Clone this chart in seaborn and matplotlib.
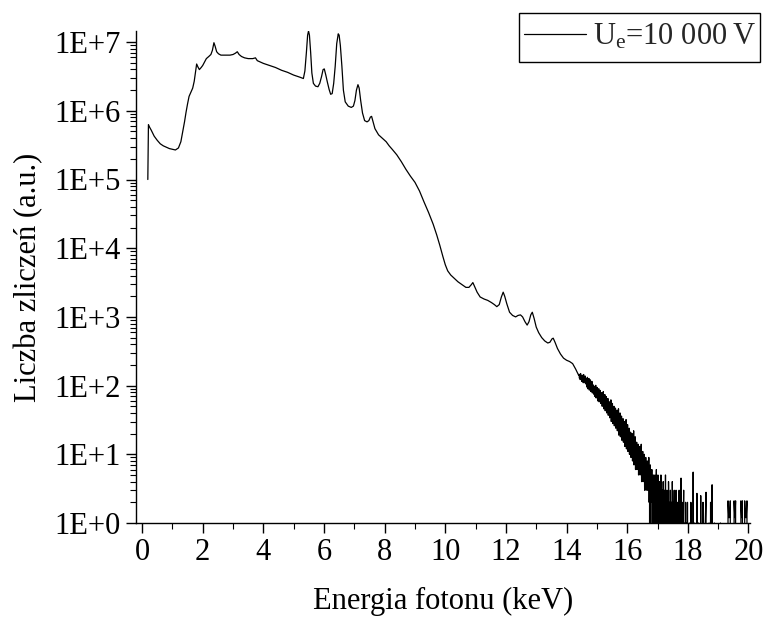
import numpy as np
import pandas as pd
import matplotlib
matplotlib.use("Agg")
import matplotlib.pyplot as plt
import matplotlib.ticker as mticker
from matplotlib.patches import Rectangle
import seaborn as sns

# ---- smooth part of the spectrum (energy keV, counts) ----
energy_main = [
    0.19, 0.21, 0.25, 0.30, 0.40, 0.50, 0.60, 0.70, 0.80, 0.90, 1.00, 1.10, 1.20, 1.28,
    1.34, 1.40, 1.45, 1.50, 1.55, 1.62, 1.67, 1.72, 1.76, 1.80, 1.84, 1.89, 1.95, 2.00,
    2.06, 2.12, 2.20, 2.27, 2.32, 2.37, 2.41, 2.46, 2.52, 2.60, 2.70, 2.80, 2.90, 3.00,
    3.08, 3.14, 3.20, 3.28, 3.38, 3.50, 3.65, 3.74, 3.80, 3.90, 4.00, 4.20, 4.40, 4.60,
    4.80, 5.00, 5.20, 5.32, 5.37, 5.42, 5.46, 5.49, 5.52, 5.56, 5.60, 5.65, 5.72, 5.80,
    5.86, 5.92, 5.97, 6.01, 6.06, 6.11, 6.17, 6.22, 6.27, 6.32, 6.37, 6.42, 6.47, 6.50,
    6.54, 6.59, 6.64, 6.70, 6.80, 6.90, 6.97, 7.02, 7.07, 7.12, 7.16, 7.21, 7.27, 7.34,
    7.42, 7.48, 7.53, 7.57, 7.62, 7.68, 7.80, 7.95, 8.05, 8.15, 8.25, 8.40, 8.55, 8.70,
    8.85, 9.00, 9.15, 9.30, 9.45, 9.60, 9.72, 9.82, 9.92, 10.00, 10.08, 10.18, 10.30,
    10.42, 10.55, 10.68, 10.78, 10.86, 10.91, 10.97, 11.05, 11.15, 11.28, 11.40, 11.52,
    11.62, 11.70, 11.78, 11.85, 11.91, 11.96, 12.03, 12.12, 12.22, 12.32, 12.40, 12.48,
    12.55, 12.63, 12.70, 12.76, 12.82, 12.87, 12.93, 13.00, 13.08, 13.18, 13.28, 13.38,
    13.45, 13.52, 13.56, 13.62, 13.70, 13.80, 13.90, 14.00, 14.10, 14.20, 14.30, 14.40,
]
counts_main = [
    1.0e5, 6.3e5, 5.75e5, 5.25e5, 4.27e5, 3.72e5, 3.31e5, 3.09e5, 2.95e5, 2.82e5, 2.75e5,
    2.69e5, 2.88e5, 3.55e5,
    4.9e5, 6.9e5, 9.5e5, 1.26e6, 1.62e6, 1.9e6, 2.14e6, 2.69e6, 3.55e6, 4.8e6, 4.37e6,
    3.98e6, 4.27e6, 4.57e6,
    5.13e6, 5.75e6, 6.17e6, 6.6e6, 7.6e6, 9.8e6, 8.7e6, 7.24e6, 6.76e6, 6.46e6, 6.46e6,
    6.46e6, 6.46e6, 6.6e6,
    6.9e6, 7.24e6, 6.6e6, 6.17e6, 5.9e6, 5.75e6, 5.75e6, 5.9e6, 5.37e6, 5.13e6, 4.9e6,
    4.57e6, 4.27e6, 3.89e6,
    3.63e6, 3.31e6, 3.09e6, 2.95e6, 3.8e6, 7.1e6, 1.26e7, 1.45e7, 1.26e7, 7.1e6, 3.55e6,
    2.51e6, 2.29e6, 2.24e6,
    2.51e6, 3.16e6, 3.98e6, 4.07e6, 3.31e6, 2.63e6, 2.04e6, 1.74e6, 1.78e6, 2.51e6,
    4.47e6, 9.5e6, 1.32e7, 1.26e7,
    8.9e6, 4.47e6, 2.0e6, 1.35e6, 1.17e6, 1.12e6, 1.17e6, 1.41e6, 2.0e6, 2.4e6, 2.14e6,
    1.41e6, 9.3e5, 7.2e5,
    6.9e5, 7.2e5, 8.1e5, 8.3e5, 6.9e5, 5.5e5, 4.47e5, 3.89e5, 3.55e5, 3.09e5, 2.75e5,
    2.29e5, 1.82e5, 1.41e5,
    1.12e5, 9.1e4, 6.8e4, 4.7e4, 3.3e4, 2.24e4, 1.55e4, 1.1e4, 7.6e3, 5.75e3, 4.68e3,
    4.07e3, 3.63e3,
    3.24e3, 2.95e3, 2.69e3, 2.69e3, 2.95e3, 3.16e3, 2.75e3, 2.29e3, 1.95e3, 1.82e3,
    1.74e3, 1.62e3,
    1.51e3, 1.41e3, 1.51e3, 1.95e3, 2.29e3, 2.0e3, 1.55e3, 1.17e3, 1.05e3, 1.0e3, 1.05e3,
    1.07e3,
    1.0e3, 8.5e2, 7.6e2, 8.5e2, 1.07e3, 1.17e3, 9.5e2, 7.1e2, 5.9e2, 5.0e2, 4.47e2, 4.17e2,
    4.27e2, 4.79e2, 4.9e2, 4.27e2, 3.47e2, 2.88e2, 2.51e2, 2.34e2, 2.24e2, 2.09e2, 1.74e2,
    1.41e2,
]

# ---- noisy tail, part 1: channels of 0.0125 keV starting at 14.4125 keV ----
tail1_start = 14.4125
tail1_step = 0.0125
counts_tail1 = [
    146, 128, 140, 122, 150, 125, 136, 115, 142, 121, 131, 110, 145, 119, 134, 112, 138, 106, 128, 115,
    124, 95, 132, 90, 118, 101, 127, 86, 112, 96, 121, 82, 109, 93, 115, 78, 104, 88, 99, 75,
    98, 70, 92, 76, 101, 66, 88, 72, 94, 60, 83, 69, 90, 58, 80, 64, 85, 55, 76, 61,
    79, 50, 70, 56, 82, 46, 66, 52, 74, 43, 63, 49, 69, 40, 60, 47, 65, 37, 55, 44,
    58, 34, 51, 38, 62, 30, 48, 36, 55, 28, 45, 34, 50, 26, 42, 31, 47, 24, 39, 29,
    44, 22, 37, 27, 46, 19, 34, 25, 40, 18, 32, 23, 36, 16, 29, 21, 33, 15, 26, 20,
    30, 13, 25, 18, 32, 12, 22, 16, 27, 11, 20, 15, 24, 10, 18, 14, 21, 9, 17, 12,
    20, 8, 16, 11, 22, 7, 14, 10, 18, 6, 13, 9, 15, 6, 12, 8, 14, 5, 11, 8,
    13, 5, 10, 7, 14, 4, 9, 6, 11, 4, 8, 6, 10, 3, 7, 5, 9, 3, 7, 5,
    8, 3, 6, 4, 9, 2, 6, 0, 7, 3, 5, 2, 6, 0, 4, 3, 5, 1, 4, 2,
    5, 0, 4, 2, 6, 0, 3, 1, 5, 0, 3, 2, 4, 0, 3, 0, 5, 1, 2, 0,
    3, 0, 4, 1, 0, 3, 2, 0, 5, 0, 2, 1, 3, 0, 2, 0, 4, 1, 0, 2,
    0, 3, 1, 0, 2, 0, 4, 1, 0, 2, 0, 3, 0, 1, 2, 0, 3, 0, 1, 0,
    2, 0, 1, 0, 3, 0, 0, 2, 0, 4.5, 1, 0, 2, 0, 0, 1, 3, 0, 0, 1,
    0, 2, 0, 0, 1, 0, 2, 0,
]
# ---- noisy tail, part 2: channels of 0.025 keV starting at 18.025 keV ----
tail2_start = 18.025
tail2_step = 0.025
counts_tail2 = [
    0, 1, 0, 2, 0, 0, 5.5, 0, 1, 0, 0, 2.7, 0, 1, 0, 0, 2.5, 0, 0, 2,
    0, 0, 1, 2.8, 0, 0, 0, 1, 0, 2, 0, 3.6, 0, 0, 1, 0, 0, 0, 0, 0,
    0, 0, 1, 0, 0, 0, 0, 0, 0, 0, 0, 0, 2.1, 1.2, 1.2, 2.1, 0, 0, 0, 0,
    2.1, 1.2, 2.1, 0, 0, 0, 0, 0, 0, 2.1, 1.2, 2.1, 0, 0, 2.1, 1.2, 1.2, 2.1, 0, 0,
]
energy_tail1 = tail1_start + tail1_step * np.arange(len(counts_tail1))
energy_tail2 = tail2_start + tail2_step * np.arange(len(counts_tail2))

legend_label = "U$_\\mathregular{e}$=10 000\u2009V"
x_label = "Energia fotonu (keV)"
y_label = "Liczba zliczeń (a.u.)"
x_ticks = [0, 2, 4, 6, 8, 10, 12, 14, 16, 18, 20]
y_decades = [0, 1, 2, 3, 4, 5, 6, 7]

df = pd.DataFrame({
    "E": list(energy_main) + list(energy_tail1) + list(energy_tail2),
    "N": list(counts_main) + list(counts_tail1) + list(counts_tail2),
})

sns.set_style("ticks")
plt.rcParams["font.family"] = ["Liberation Serif", "DejaVu Serif"]
plt.rcParams["mathtext.fontset"] = "custom"
plt.rcParams["mathtext.rm"] = "Liberation Serif"
plt.rcParams["mathtext.it"] = "Liberation Serif:italic"

W, H = 766, 619
fig = plt.figure(figsize=(W / 100, H / 100), dpi=100)
ax = fig.add_axes([136 / W, 1 - 523 / H, 614 / W, (523 - 31) / H])

sns.lineplot(data=df, x="E", y="N", ax=ax, color="black", lw=0.9,
             estimator=None, sort=False, label=legend_label)

ax.set_yscale("log", nonpositive="clip")
ax.set_ylim(1, 10 ** ((523 - 31) / 68.7))
ax.set_xlim(-0.2, 20.05)

ax.xaxis.set_major_locator(mticker.FixedLocator(x_ticks))
ax.xaxis.set_minor_locator(mticker.MultipleLocator(1))
ax.yaxis.set_major_locator(mticker.FixedLocator([10.0 ** d for d in y_decades]))
ax.yaxis.set_major_formatter(mticker.FuncFormatter(lambda v, p: "1E+%d" % round(np.log10(v))))
ax.yaxis.set_minor_locator(mticker.LogLocator(base=10, subs=np.arange(2, 10), numticks=50))
ax.yaxis.set_minor_formatter(mticker.NullFormatter())

ax.tick_params(axis="both", which="major", direction="out", length=7, width=1.0,
               labelsize=22, color="black", labelcolor="black", pad=4)
ax.tick_params(axis="both", which="minor", direction="out", length=4, width=0.8, color="black")

for s in ["top", "right"]:
    ax.spines[s].set_visible(False)
for s in ["left", "bottom"]:
    ax.spines[s].set_color("black")
    ax.spines[s].set_linewidth(1.0)

ax.set_xlabel(x_label, fontsize=22, color="black", labelpad=14)
ax.set_ylabel(y_label, fontsize=22, color="black", labelpad=8)

# legend content (no frame) plus a separate rectangular frame like the reference
leg = ax.legend(loc="center right", bbox_to_anchor=(760 / W, 1 - 37 / H),
                bbox_transform=fig.transFigure, fontsize=22, frameon=False,
                handlelength=2.06, handletextpad=0.22, borderpad=0.11, borderaxespad=0)
fig.patches.append(Rectangle((519 / W, 1 - 62 / H), (760 - 519) / W, 49 / H,
                             transform=fig.transFigure, fill=False,
                             edgecolor="black", linewidth=1.0))

fig.savefig("out.png", dpi=100, facecolor="white")
